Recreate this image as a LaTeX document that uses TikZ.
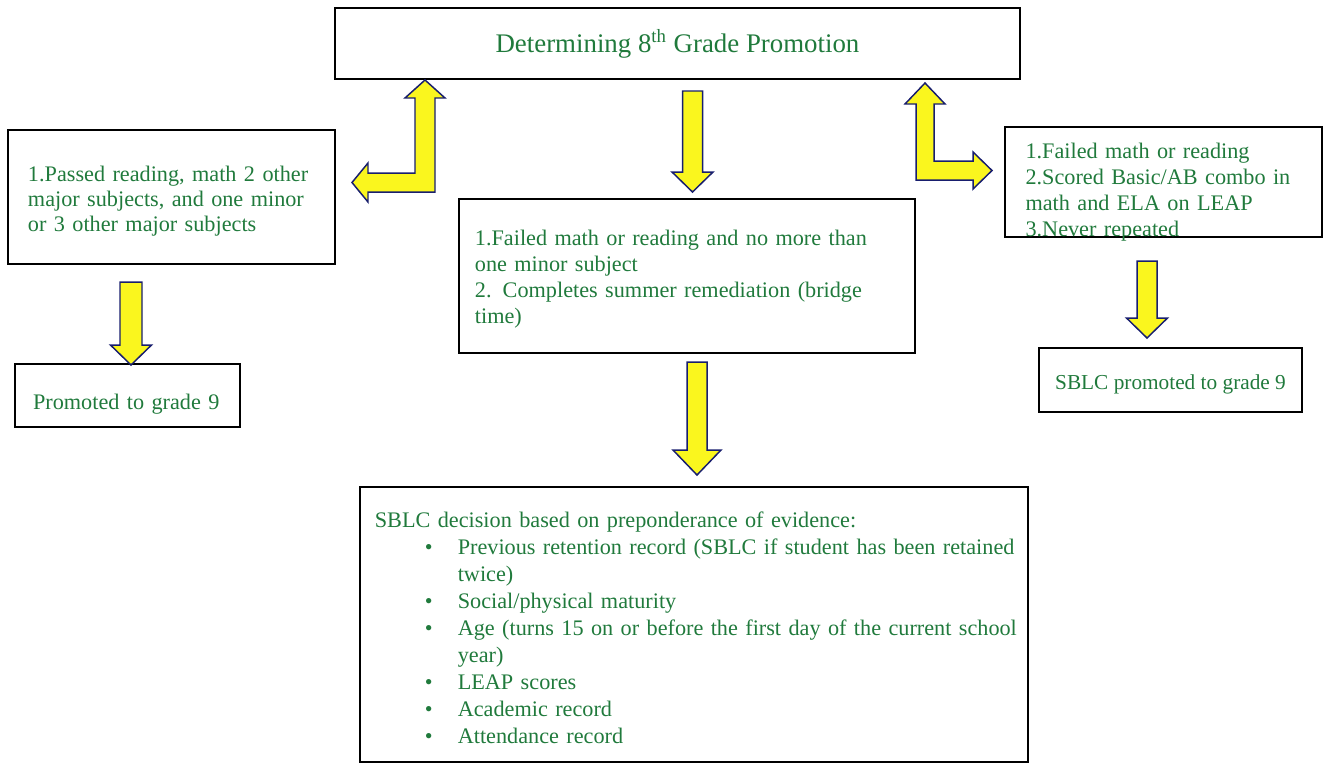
\documentclass[tikz,border=0pt]{standalone}
\usepackage{fontspec}
\setmainfont{Liberation Serif}
\definecolor{textgreen}{RGB}{32,122,60}
\definecolor{arrowyellow}{RGB}{250,246,30}
\definecolor{arrowblue}{RGB}{24,30,110}
% down block arrow: centre x, shaft top, head base, tip, half shaft, half head
\newcommand\blockdown[6]{%
  \draw[blockarrow] (#1-#5,#2) -- (#1+#5,#2) -- (#1+#5,#3) -- (#1+#6,#3)
    -- (#1,#4) -- (#1-#6,#3) -- (#1-#5,#3) -- cycle;}
\newcommand\bitem[1]{\mbox{\hspace*{27pt}\makebox[17.8pt][l]{\textbullet}#1}}
\begin{document}
\begin{tikzpicture}[
    x=0.54pt, y=-0.54pt,
    box/.style={draw, line width=0.8pt, rectangle, align=left, text=textgreen,
        inner ysep=0pt, font=\fontsize{12}{13.6}\selectfont},
    blockarrow/.style={fill=arrowyellow, draw=arrowblue, line width=0.8pt, line join=miter}
]
    \useasboundingbox (0,0) rectangle (1323,763);

    \node[box, align=center, minimum width=370pt, minimum height=38.3pt,
        font=\fontsize{14.5}{17}\selectfont, text height=24pt, text depth=14.3pt] (title) at (677.5,43.5)
        {Determining 8\textsuperscript{th} Grade Promotion};

    \node[box, minimum width=176.6pt, minimum height=72.4pt, text width=155pt,
        inner xsep=10.8pt, text height=27.8pt, text depth=44.6pt] (passed) at (171.5,197)
        {1.Passed reading, math 2 other\\major subjects, and one minor\\or 3 other major subjects};

    \node[box, minimum width=121.5pt, minimum height=34pt, text width=102pt,
        inner xsep=9.7pt, text height=24.5pt, text depth=9.5pt] (promoted) at (127.5,395.5)
        {Promoted to grade 9};

    \node[box, minimum width=246pt, minimum height=83pt, text width=229pt,
        inner xsep=8.6pt, font=\fontsize{12}{14}\selectfont,
        text height=25pt, text depth=58pt] (remed) at (687,276)
        {1.Failed math or reading and no more than\\one minor subject\\2. Completes summer remediation (bridge\\time)};

    \node[box, minimum width=171pt, minimum height=59.4pt, text width=149pt,
        inner xsep=10.8pt, font=\fontsize{12}{14}\selectfont,
        text height=17pt, text depth=42.4pt] (failed) at (1163.5,182)
        {1.Failed math or reading\\2.Scored Basic/AB combo in\\math and ELA on LEAP\\3.Never repeated};

    \node[box, align=center, minimum width=142pt, minimum height=34.6pt,
        font=\fontsize{11.5}{13}\selectfont, text height=22.4pt, text depth=12.2pt] (sblcprom) at (1170.5,380)
        {SBLC promoted to grade 9};

    \node[box, minimum width=360.7pt, minimum height=148.5pt, text width=344.7pt,
        inner xsep=8pt, font=\fontsize{12}{14.6}\selectfont,
        text height=21.6pt, text depth=126.9pt] (decision) at (694,624.5)
        {SBLC decision based on preponderance of evidence:\\
         \bitem{Previous retention record (SBLC if student has been retained}\\
         \hspace*{44.8pt}twice)\\
         \bitem{Social/physical maturity}\\
         \bitem{Age (turns 15 on or before the first day of the current school}\\
         \hspace*{44.8pt}year)\\
         \bitem{LEAP scores}\\
         \bitem{Academic record}\\
         \bitem{Attendance record}};

    % straight arrows
    \blockdown{692.5}{91}{172}{192}{10}{20.5}
    \blockdown{131}{282}{345}{365}{11}{20.5}
    \blockdown{1147}{261}{318}{338}{10}{20.5}
    \blockdown{697}{362}{450}{475}{10}{24}

    % L-shaped arrows
    \draw[blockarrow] (425,80) -- (445,98) -- (435,98) -- (435,192) -- (368,192)
        -- (368,202) -- (352,182.5) -- (368,163) -- (368,173) -- (415,173)
        -- (415,98) -- (405,98) -- cycle;
    \draw[blockarrow] (925,83) -- (945,104) -- (934,104) -- (934,161) -- (973,161)
        -- (973,152) -- (992,170.5) -- (973,189) -- (973,180) -- (916,180)
        -- (916,104) -- (905,104) -- cycle;
\end{tikzpicture}
\end{document}
